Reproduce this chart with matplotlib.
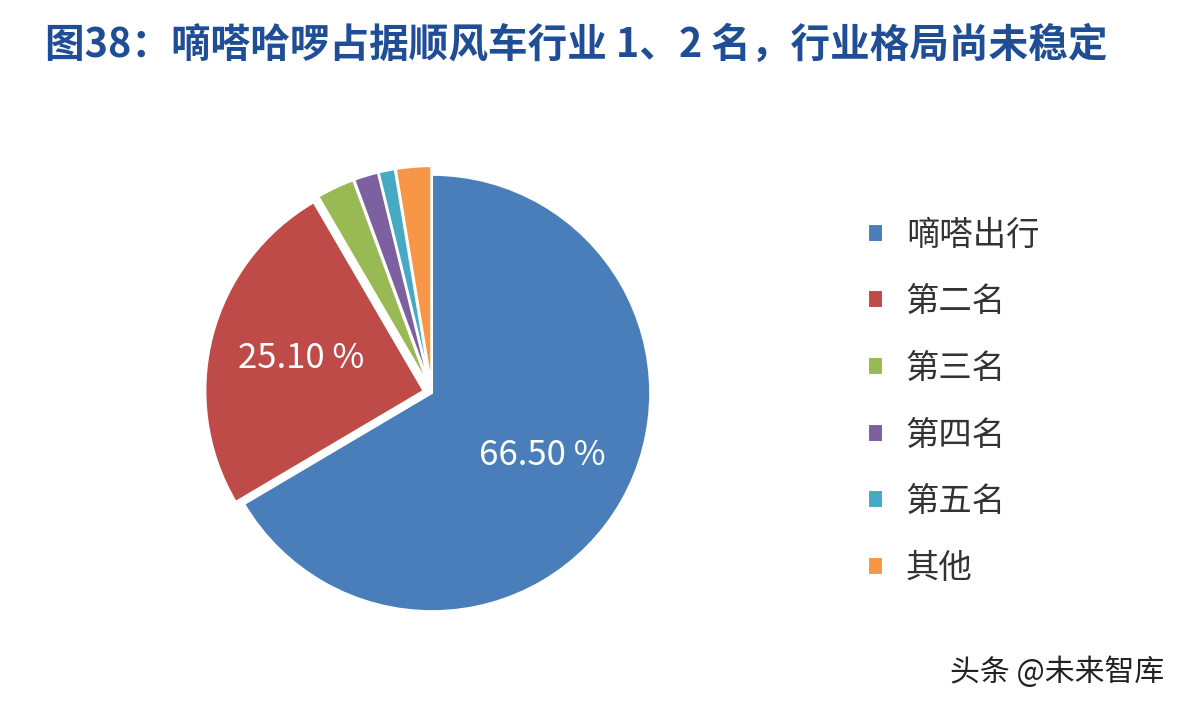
import matplotlib.pyplot as plt

plt.rcParams['font.family'] = ['Noto Sans CJK SC', 'DejaVu Sans']

# data
labels = ['嘀嗒出行', '第二名', '第三名', '第四名', '第五名', '其他']
shares = [66.5, 25.1, 2.8, 1.8, 1.2, 2.6]
colors = ['#4a7ebb', '#be4b48', '#98b954', '#7d60a0', '#46aac5', '#f79646']
explode = [0, 0.04, 0.04, 0.04, 0.04, 0.04]

fig = plt.figure(figsize=(11.88, 7.08), dpi=100)
W, H = 1188, 708
cx, cy, half = 432, 393, 240
ax = fig.add_axes([(cx - half) / W, (H - cy - half) / H, 2 * half / W, 2 * half / H])


def pct(p):
    return '%.2f %%' % p if p > 10 else ''


wedges, texts, autotexts = ax.pie(
    shares, colors=colors, explode=explode, startangle=90, counterclock=False,
    autopct=pct, pctdistance=0.58, radius=1,
    wedgeprops=dict(edgecolor='white', linewidth=1.5),
    textprops=dict(color='white', fontsize=25))
ax.set_xlim(-1.1, 1.1)
ax.set_ylim(-1.1, 1.1)
ax.set_aspect('equal')
ax.axis('off')

fig.text(45 / W, 1 - 45 / H, '图38：嘀嗒哈啰占据顺风车行业 1、2 名，行业格局尚未稳定',
         fontsize=28.5, fontweight='bold', color='#1f4e96', va='center', ha='left')

fig.legend(wedges, labels, loc='upper left', bbox_to_anchor=(0.705, 0.735),
           frameon=False, fontsize=24, handlelength=0.45, handleheight=0.45,
           handletextpad=0.7, labelspacing=0.95, labelcolor='#333333')

fig.text(950 / W, 1 - 672 / H, '头条 @未来智库', fontsize=21.5, color='#222222',
         va='center', ha='left')

fig.savefig('out.png', dpi=100)
